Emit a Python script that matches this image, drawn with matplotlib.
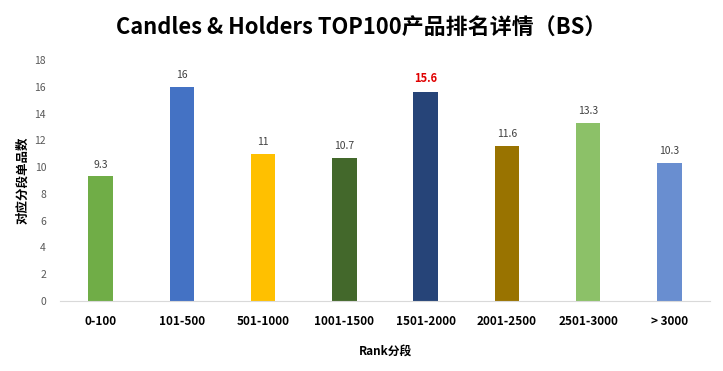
import matplotlib
matplotlib.use('Agg')
import matplotlib.pyplot as plt
import numpy as np

plt.rcParams['font.family'] = ['Noto Sans CJK SC', 'DejaVu Sans']

categories = ['0-100', '101-500', '501-1000', '1001-1500', '1501-2000',
              '2001-2500', '2501-3000', '> 3000']
values = [9.3, 16, 11, 10.7, 15.6, 11.6, 13.3, 10.3]
value_labels = ['9.3', '16', '11', '10.7', '15.6', '11.6', '13.3', '10.3']
colors = ['#70AD47', '#4472C4', '#FFC000', '#43682B', '#264478',
          '#997300', '#8CC168', '#698ED0']
y_ticks = [0, 2, 4, 6, 8, 10, 12, 14, 16, 18]

fig = plt.figure(figsize=(7.23, 3.71), dpi=100)
ax = fig.add_axes([60 / 723, 1 - 301 / 371, 650 / 723, 241 / 371])

x = np.arange(len(categories))
ax.bar(x, values, width=0.3, color=colors)

for xi, v, lab in zip(x, values, value_labels):
    if lab == '15.6':
        ax.text(xi, v + 0.5, lab, ha='center', va='bottom', fontsize=8,
                color='#E00000', fontweight='bold')
    else:
        ax.text(xi, v + 0.5, lab, ha='center', va='bottom', fontsize=7.5,
                color='#404040')

ax.set_xlim(-0.5, len(categories) - 0.5)
ax.set_ylim(0, 18)
ax.set_yticks(y_ticks)
ax.tick_params(axis='y', length=0, labelsize=7.5, labelcolor='#595959', pad=10)
ax.set_xticks(x)
ax.set_xticklabels(categories, fontsize=8.5, fontweight='bold')
ax.tick_params(axis='x', length=0, pad=10)

for s in ['top', 'right', 'left']:
    ax.spines[s].set_visible(False)
ax.spines['bottom'].set_color('#D9D9D9')

ax.set_xlabel('Rank分段', fontsize=8.5, fontweight='bold', labelpad=12)
ax.set_ylabel('对应分段单品数', fontsize=9, fontweight='bold')
ax.yaxis.set_label_coords(-0.048, 0.5)

fig.suptitle('Candles & Holders TOP100产品排名详情（BS）', fontsize=15.8,
             fontweight='bold', y=0.955)

fig.savefig('out.png', dpi=100)
